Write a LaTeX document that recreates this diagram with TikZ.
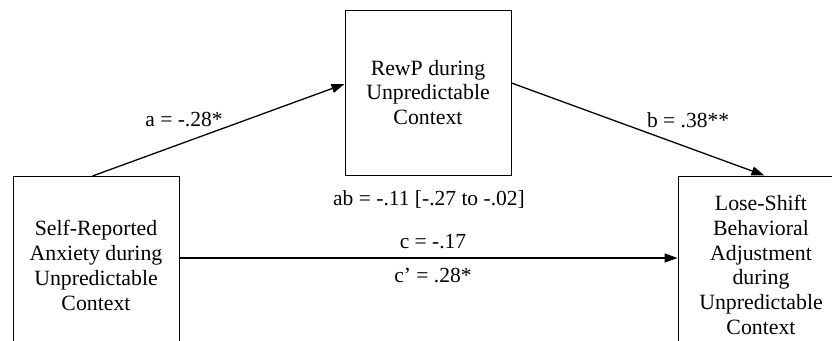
\documentclass[tikz,border=0pt]{standalone}
\usepackage{fontspec}
\setmainfont{Liberation Serif}
\usetikzlibrary{arrows.meta}
\begin{document}
\begin{tikzpicture}[x=1pt,y=-1pt,
  box/.style={draw=black,line width=1pt,align=center,inner sep=0pt,
    font=\fontsize{21.8}{24.8}\selectfont},
  lbl/.style={inner sep=0pt,font=\fontsize{21.5}{24.5}\selectfont},
  arr/.style={line width=1.3pt,-{Triangle[length=13pt,width=9pt]}}]
\useasboundingbox (0,0) rectangle (832,340);
\clip (0,0) rectangle (832,340);
\node[box,minimum width=166pt,minimum height=178pt] (L) at (96,265.5)
  {Self-Reported\\Anxiety during\\Unpredictable\\Context};
\node[box,minimum width=166pt,minimum height=165pt] (M) at (428,92.5)
  {RewP during\\Unpredictable\\Context};
\node[box,minimum width=166pt,minimum height=178pt] (R) at (761,265)
  {Lose-Shift\\Behavioral\\Adjustment\\during\\Unpredictable\\Context};
\draw[arr] ([xshift=80pt]L.north west) -- ([yshift=8.5pt]M.west);
\draw[arr] ([yshift=9.5pt]M.east) -- ([xshift=87pt]R.north west);
\draw[arr] ([yshift=7.5pt]L.east) -- ([yshift=7pt]R.west);
\node[lbl] (la) at (184,120) {a = -.28*};
\node[lbl] (lb) at (688,120) {b = .38**};
\node[lbl] (lab) at (429,199) {ab = -.11 [-.27 to -.02]};
\node[lbl] (lc) at (433,242) {c = -.17};
\node[lbl] (lc2) at (433,275) {c’ = .28*};
\end{tikzpicture}
\end{document}
